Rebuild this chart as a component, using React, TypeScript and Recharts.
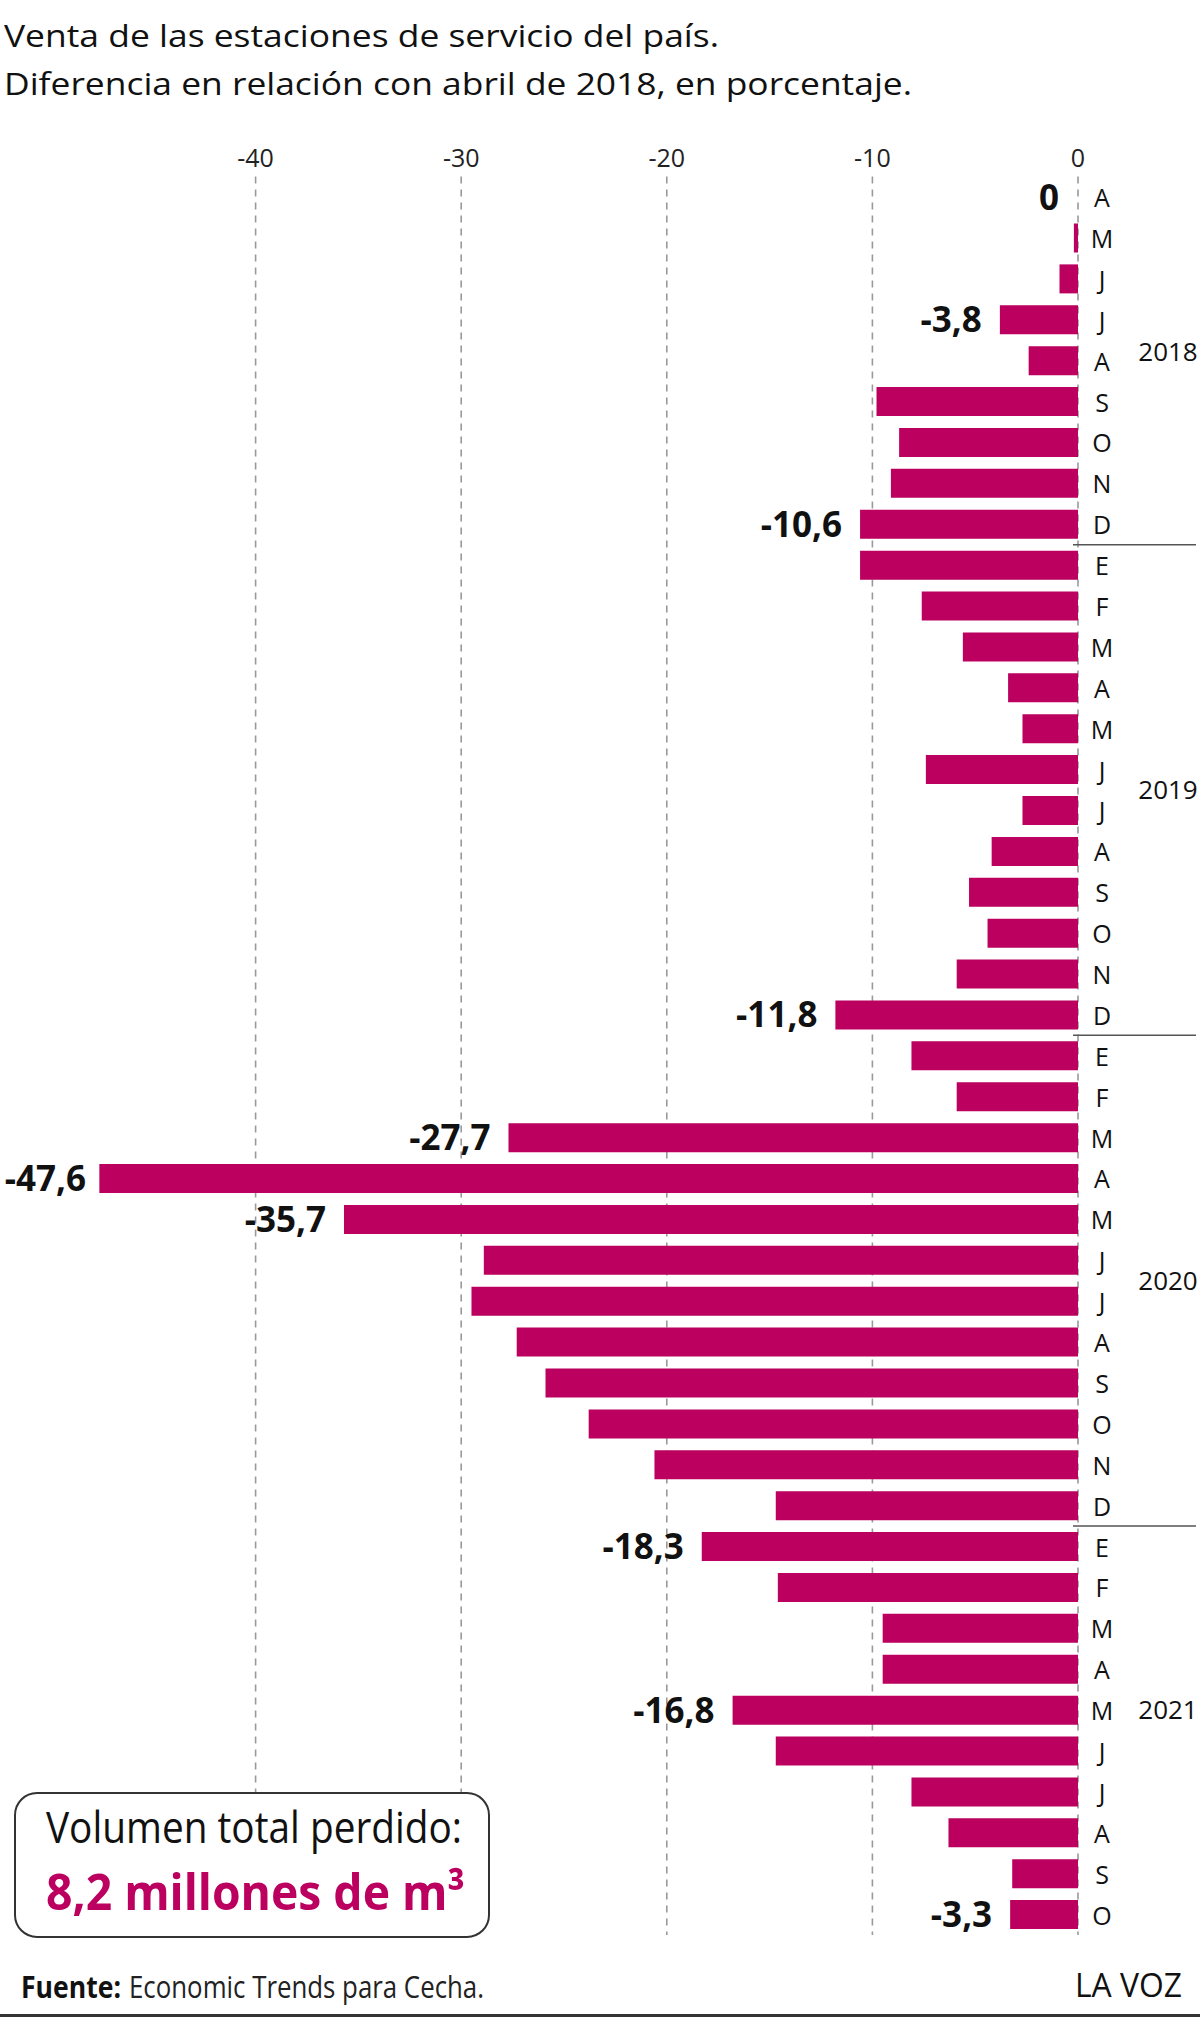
import { Bar, BarChart, CartesianGrid, LabelList, XAxis, YAxis } from "recharts";

const FONT = "'Open Sans', 'Noto Sans', sans-serif";
const MAGENTA = "#BB005F";

// months per year (Spanish initials)
const years = ["2018", "2019", "2020", "2021"];
const months2018 = ["A", "M", "J", "J", "A", "S", "O", "N", "D"];
const months2019 = ["E", "F", "M", "A", "M", "J", "J", "A", "S", "O", "N", "D"];
const months2020 = ["E", "F", "M", "A", "M", "J", "J", "A", "S", "O", "N", "D"];
const months2021 = ["E", "F", "M", "A", "M", "J", "J", "A", "S", "O"];

// % difference vs. April 2018
const values2018 = [0, -0.2, -0.9, -3.8, -2.4, -9.8, -8.7, -9.1, -10.6];
const values2019 = [-10.6, -7.6, -5.6, -3.4, -2.7, -7.4, -2.7, -4.2, -5.3, -4.4, -5.9, -11.8];
const values2020 = [-8.1, -5.9, -27.7, -47.6, -35.7, -28.9, -29.5, -27.3, -25.9, -23.8, -20.6, -14.7];
const values2021 = [-18.3, -14.6, -9.5, -9.5, -16.8, -14.7, -8.1, -6.3, -3.2, -3.3];

// which months get a value label
const labelled2018 = [0, 3, 8];
const labelled2019 = [11];
const labelled2020 = [2, 3, 4];
const labelled2021 = [0, 4, 9];

const xTicks = [-40, -30, -20, -10, 0];

// where the year caption sits, in rows from the year's first month
const yearLabelRow = [3.8, 5.5, 5.5, 4];

const W = 1200;
const H = 2018;
const PLOT_TOP = 176.6;
const PLOT_BOTTOM = 1935;

const groups = [
  { months: months2018, values: values2018, labelled: labelled2018 },
  { months: months2019, values: values2019, labelled: labelled2019 },
  { months: months2020, values: values2020, labelled: labelled2020 },
  { months: months2021, values: values2021, labelled: labelled2021 },
];

type Row = {
  key: string;
  month: string;
  year: string;
  value: number;
  label: string;
  yearAt: number | null;
  endOfYear: boolean;
};

const rows: Row[] = groups.flatMap((g, gi) =>
  g.months.map((m, i) => ({
    key: `${years[gi]}-${i}`,
    month: m,
    year: years[gi],
    value: g.values[i],
    label: g.labelled.includes(i) ? String(g.values[i]).replace(".", ",") : "",
    yearAt: Math.floor(yearLabelRow[gi]) === i ? yearLabelRow[gi] - i : null,
    endOfYear: i === g.months.length - 1 && gi < years.length - 1,
  }))
);
const rowByKey: Record<string, Row> = Object.fromEntries(rows.map((r) => [r.key, r]));
const BAND = (PLOT_BOTTOM - PLOT_TOP) / rows.length;

function TopTick(props: any) {
  const { x, y, payload } = props;
  return (
    <text x={x} y={y - 10} textAnchor="middle" fontFamily={FONT} fontSize={25} fill="#222">
      {payload.value}
    </text>
  );
}

function MonthTick(props: any) {
  const { x, y, payload } = props;
  const row = rowByKey[payload.value];
  if (!row) return null;
  return (
    <g>
      <text x={x + 24} y={y + 10} textAnchor="middle" fontFamily={FONT} fontSize={25} fill="#111">
        {row.month}
      </text>
      {/* a zero bar has no rectangle, so its label hangs off the axis */}
      {row.value === 0 && row.label && (
        <text x={x - 19} y={y + 12.5} textAnchor="end" fontFamily={FONT} fontWeight={700} fontSize={35} fill="#111">
          {row.label}
        </text>
      )}
      {row.yearAt !== null && (
        <text x={x + 90} y={y + row.yearAt * BAND + 9} textAnchor="middle" fontFamily={FONT} fontSize={26} fill="#111">
          {row.year}
        </text>
      )}
      {row.endOfYear && (
        <line x1={x - 5} x2={x + 118} y1={y + BAND / 2} y2={y + BAND / 2} stroke="#555" strokeWidth={1.5} />
      )}
    </g>
  );
}

function ValueLabel(props: any) {
  const { value } = props;
  if (!value || value === "0") return null;
  const vb = props.viewBox ?? props;
  const x = vb.x ?? props.x;
  const y = vb.y ?? props.y;
  const width = vb.width ?? props.width ?? 0;
  const height = vb.height ?? props.height ?? 0;
  const left = Math.min(x, x + width);
  // keep the biggest label inside the page
  const right = Math.max(left - 18, 86);
  return (
    <text x={right} y={y + height / 2 + 12.5} textAnchor="end" fontFamily={FONT} fontWeight={700} fontSize={35} fill="#111">
      {value}
    </text>
  );
}

export default function App() {
  return (
    <div style={{ position: "absolute", left: 0, top: 0, width: W, height: H, background: "#fff", fontFamily: FONT }}>
      <BarChart
        width={W}
        height={H}
        data={rows}
        layout="vertical"
        margin={{ top: PLOT_TOP - 30, right: 0, bottom: H - PLOT_BOTTOM, left: 50 }}
      >
        <CartesianGrid horizontal={false} stroke="#999" strokeWidth={1.6} strokeDasharray="7 6" syncWithTicks />
        <XAxis
          type="number"
          orientation="top"
          domain={[-50, 0]}
          ticks={xTicks}
          height={30}
          axisLine={false}
          tickLine={false}
          tickSize={0}
          tickMargin={0}
          tick={<TopTick />}
          allowDataOverflow
        />
        <YAxis
          type="category"
          dataKey="key"
          orientation="right"
          width={122}
          axisLine={false}
          tickLine={false}
          tickSize={0}
          tickMargin={0}
          interval={0}
          tick={<MonthTick />}
        />
        <Bar dataKey="value" fill={MAGENTA} barSize={29} isAnimationActive={false}>
          <LabelList dataKey="label" content={<ValueLabel />} />
        </Bar>
      </BarChart>

      <svg width={W} height={H} style={{ position: "absolute", left: 0, top: 0, pointerEvents: "none" }}>
        <text x={4} y={47} fontFamily={FONT} fontSize={31} fill="#111" textLength={715} lengthAdjust="spacingAndGlyphs">
          Venta de las estaciones de servicio del país.
        </text>
        <text x={4} y={95} fontFamily={FONT} fontSize={31} fill="#111" textLength={908} lengthAdjust="spacingAndGlyphs">
          Diferencia en relación con abril de 2018, en porcentaje.
        </text>

        <rect x={15} y={1793} width={474} height={144} rx={22} fill="#fff" stroke="#333" strokeWidth={2} />
        <text x={46} y={1843} fontFamily={FONT} fontSize={44} fill="#111" textLength={416} lengthAdjust="spacingAndGlyphs">
          Volumen total perdido:
        </text>
        <text x={46} y={1910} fontFamily={FONT} fontSize={50} fontWeight={700} fill={MAGENTA} textLength={419} lengthAdjust="spacingAndGlyphs">
          8,2 millones de m³
        </text>

        <text x={21} y={1998} fontFamily={FONT} fontSize={31} fontWeight={700} fill="#111" textLength={100} lengthAdjust="spacingAndGlyphs">
          Fuente:
        </text>
        <text x={129} y={1998} fontFamily={FONT} fontSize={31} fill="#222" textLength={355} lengthAdjust="spacingAndGlyphs">
          Economic Trends para Cecha.
        </text>
        <text x={1075} y={1997} fontFamily={FONT} fontSize={32} fill="#111" textLength={107} lengthAdjust="spacingAndGlyphs">
          LA VOZ
        </text>
        <line x1={0} x2={W} y1={2015.5} y2={2015.5} stroke="#333" strokeWidth={3} />
      </svg>
    </div>
  );
}
